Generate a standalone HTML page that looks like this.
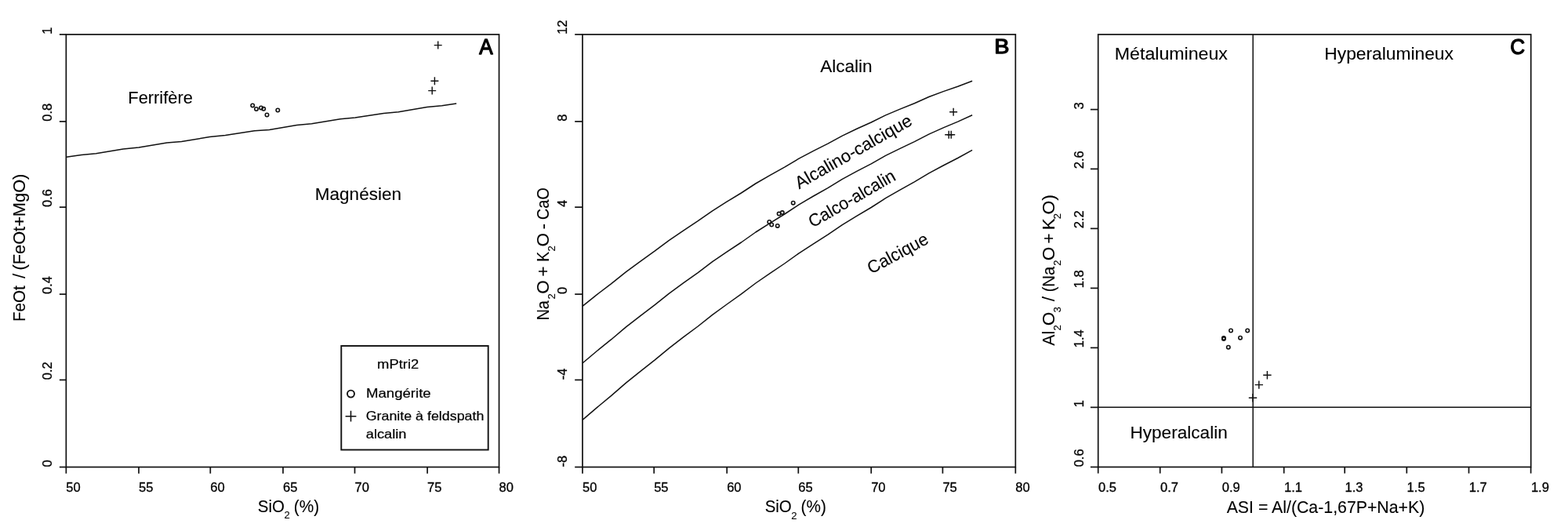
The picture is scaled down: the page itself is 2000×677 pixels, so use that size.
<!DOCTYPE html>
<html lang="fr"><head><meta charset="utf-8"><title>Diagrammes géochimiques</title>
<style>html,body{margin:0;padding:0;background:#fff}svg{display:block}text{font-family:'Liberation Sans', sans-serif;fill:#000}text.m{stroke:#000;stroke-width:.1px}text.t{stroke:#000;stroke-width:.3px}text.g{stroke:#000;stroke-width:.2px}text.p{stroke:#000;stroke-width:1.3px;stroke-linejoin:round}</style>
</head><body>
<svg width="2000" height="677" viewBox="0 0 2000 677">
<rect width="2000" height="677" fill="#fff"/>
<g id="panelA">
<rect x="84.35" y="43.95" width="552.20" height="551.55" fill="none" stroke="#111" stroke-width="1.7"/>
<line x1="84.35" y1="595.50" x2="84.35" y2="603.70" stroke="#111" stroke-width="1.7"/>
<text class="t" x="84.35" y="626.90" font-size="15.6" textLength="18.39" lengthAdjust="spacingAndGlyphs">50</text>
<line x1="177.00" y1="595.50" x2="177.00" y2="603.70" stroke="#111" stroke-width="1.7"/>
<text class="t" x="177.00" y="626.90" font-size="15.6" textLength="18.39" lengthAdjust="spacingAndGlyphs">55</text>
<line x1="268.30" y1="595.50" x2="268.30" y2="603.70" stroke="#111" stroke-width="1.7"/>
<text class="t" x="268.30" y="626.90" font-size="15.6" textLength="18.39" lengthAdjust="spacingAndGlyphs">60</text>
<line x1="361.00" y1="595.50" x2="361.00" y2="603.70" stroke="#111" stroke-width="1.7"/>
<text class="t" x="361.00" y="626.90" font-size="15.6" textLength="18.39" lengthAdjust="spacingAndGlyphs">65</text>
<line x1="452.50" y1="595.50" x2="452.50" y2="603.70" stroke="#111" stroke-width="1.7"/>
<text class="t" x="452.50" y="626.90" font-size="15.6" textLength="18.39" lengthAdjust="spacingAndGlyphs">70</text>
<line x1="545.10" y1="595.50" x2="545.10" y2="603.70" stroke="#111" stroke-width="1.7"/>
<text class="t" x="545.10" y="626.90" font-size="15.6" textLength="18.39" lengthAdjust="spacingAndGlyphs">75</text>
<line x1="636.55" y1="595.50" x2="636.55" y2="603.70" stroke="#111" stroke-width="1.7"/>
<text class="t" x="636.55" y="626.90" font-size="15.6" textLength="18.39" lengthAdjust="spacingAndGlyphs">80</text>
<line x1="75.85" y1="595.50" x2="84.35" y2="595.50" stroke="#111" stroke-width="1.7"/>
<text class="t" x="66.00" y="595.40" font-size="15.6" transform="rotate(-90 66.00 595.40)" textLength="9.20" lengthAdjust="spacingAndGlyphs">0</text>
<line x1="75.85" y1="484.40" x2="84.35" y2="484.40" stroke="#111" stroke-width="1.7"/>
<text class="t" x="66.00" y="484.30" font-size="15.6" transform="rotate(-90 66.00 484.30)" textLength="22.99" lengthAdjust="spacingAndGlyphs">0.2</text>
<line x1="75.85" y1="375.10" x2="84.35" y2="375.10" stroke="#111" stroke-width="1.7"/>
<text class="t" x="66.00" y="375.00" font-size="15.6" transform="rotate(-90 66.00 375.00)" textLength="22.99" lengthAdjust="spacingAndGlyphs">0.4</text>
<line x1="75.85" y1="264.15" x2="84.35" y2="264.15" stroke="#111" stroke-width="1.7"/>
<text class="t" x="66.00" y="264.05" font-size="15.6" transform="rotate(-90 66.00 264.05)" textLength="22.99" lengthAdjust="spacingAndGlyphs">0.6</text>
<line x1="75.85" y1="154.90" x2="84.35" y2="154.90" stroke="#111" stroke-width="1.7"/>
<text class="t" x="66.00" y="154.80" font-size="15.6" transform="rotate(-90 66.00 154.80)" textLength="22.99" lengthAdjust="spacingAndGlyphs">0.8</text>
<line x1="75.85" y1="43.95" x2="84.35" y2="43.95" stroke="#111" stroke-width="1.7"/>
<text class="t" x="66.00" y="43.85" font-size="15.6" transform="rotate(-90 66.00 43.85)" textLength="9.20" lengthAdjust="spacingAndGlyphs">1</text>
<polyline points="84.5,200.3 103.9,197.5 122.5,195.8 157.1,189.9 177.0,188.1 212.9,182.1 231.5,180.5 267.4,174.5 287.4,172.6 324.6,166.7 343.5,165.6 378.6,159.5 397.5,157.8 434.0,151.7 452.9,150.1 489.3,144.4 508.2,142.7 544.7,136.6 563.6,134.8 582.2,132.1" fill="none" stroke="#111" stroke-width="1.5" stroke-linejoin="round"/>
<circle cx="322.20" cy="134.40" r="2.2" fill="none" stroke="#111" stroke-width="1.6"/>
<circle cx="326.95" cy="139.00" r="2.2" fill="none" stroke="#111" stroke-width="1.6"/>
<circle cx="333.00" cy="137.50" r="2.2" fill="none" stroke="#111" stroke-width="1.6"/>
<circle cx="336.20" cy="138.80" r="2.2" fill="none" stroke="#111" stroke-width="1.6"/>
<circle cx="340.50" cy="146.50" r="2.2" fill="none" stroke="#111" stroke-width="1.6"/>
<circle cx="354.30" cy="140.50" r="2.2" fill="none" stroke="#111" stroke-width="1.6"/>
<path d="M553.70 57.60H563.70M558.70 52.60V62.60" fill="none" stroke="#111" stroke-width="1.45"/>
<path d="M549.40 103.30H559.40M554.40 98.30V108.30" fill="none" stroke="#111" stroke-width="1.45"/>
<path d="M546.20 115.60H556.20M551.20 110.60V120.60" fill="none" stroke="#111" stroke-width="1.45"/>
<text class="m" x="163.31" y="132.05" font-size="22.4" textLength="82.56" lengthAdjust="spacingAndGlyphs">Ferrifère</text>
<text class="m" x="401.85" y="255.25" font-size="22.4" textLength="110.11" lengthAdjust="spacingAndGlyphs">Magnésien</text>
<text class="p" x="611.20" y="68.85" font-size="27.3" textLength="17.40" lengthAdjust="spacingAndGlyphs">A</text>
<text class="m" x="32.35" y="410.10" font-size="22.4" transform="rotate(-90 32.35 410.10)" textLength="45.95" lengthAdjust="spacingAndGlyphs">FeOt</text>
<text class="m" x="32.35" y="354.94" font-size="22.4" transform="rotate(-90 32.35 354.94)">/</text>
<text class="m" x="32.35" y="344.55" font-size="22.4" transform="rotate(-90 32.35 344.55)" textLength="122.90" lengthAdjust="spacingAndGlyphs">(FeOt+MgO)</text>
<text class="m" x="328.87" y="653.05" font-size="22.4" textLength="34.11" lengthAdjust="spacingAndGlyphs">SiO</text>
<text class="m" x="362.39" y="661.45" font-size="13.0">2</text>
<text class="m" x="374.71" y="653.05" font-size="22.4" textLength="32.38" lengthAdjust="spacingAndGlyphs">(%)</text>
<rect x="435.3" y="441.0" width="187.4" height="132.5" fill="none" stroke="#111" stroke-width="1.9"/>
<text class="g" x="481.08" y="470.35" font-size="16.6" textLength="53.15" lengthAdjust="spacingAndGlyphs">mPtri2</text>
<circle cx="447.50" cy="502.10" r="4.5" fill="none" stroke="#111" stroke-width="1.9"/>
<text class="g" x="466.97" y="507.35" font-size="16.6" textLength="82.75" lengthAdjust="spacingAndGlyphs">Mangérite</text>
<path d="M440.60 530.70H454.40M447.50 523.80V537.60" fill="none" stroke="#111" stroke-width="1.6"/>
<text class="g" x="466.70" y="536.05" font-size="16.6" textLength="150.65" lengthAdjust="spacingAndGlyphs">Granite à feldspath</text>
<text class="g" x="466.83" y="558.95" font-size="16.6" textLength="51.66" lengthAdjust="spacingAndGlyphs">alcalin</text>
</g>
<g id="panelB">
<rect x="743.0" y="43.95" width="552.30" height="551.55" fill="none" stroke="#111" stroke-width="1.7"/>
<line x1="743.00" y1="595.50" x2="743.00" y2="603.70" stroke="#111" stroke-width="1.7"/>
<text class="t" x="743.00" y="626.90" font-size="15.6" textLength="18.39" lengthAdjust="spacingAndGlyphs">50</text>
<line x1="834.20" y1="595.50" x2="834.20" y2="603.70" stroke="#111" stroke-width="1.7"/>
<text class="t" x="834.20" y="626.90" font-size="15.6" textLength="18.39" lengthAdjust="spacingAndGlyphs">55</text>
<line x1="927.20" y1="595.50" x2="927.20" y2="603.70" stroke="#111" stroke-width="1.7"/>
<text class="t" x="927.20" y="626.90" font-size="15.6" textLength="18.39" lengthAdjust="spacingAndGlyphs">60</text>
<line x1="1018.30" y1="595.50" x2="1018.30" y2="603.70" stroke="#111" stroke-width="1.7"/>
<text class="t" x="1018.30" y="626.90" font-size="15.6" textLength="18.39" lengthAdjust="spacingAndGlyphs">65</text>
<line x1="1111.20" y1="595.50" x2="1111.20" y2="603.70" stroke="#111" stroke-width="1.7"/>
<text class="t" x="1111.20" y="626.90" font-size="15.6" textLength="18.39" lengthAdjust="spacingAndGlyphs">70</text>
<line x1="1202.40" y1="595.50" x2="1202.40" y2="603.70" stroke="#111" stroke-width="1.7"/>
<text class="t" x="1202.40" y="626.90" font-size="15.6" textLength="18.39" lengthAdjust="spacingAndGlyphs">75</text>
<line x1="1295.30" y1="595.50" x2="1295.30" y2="603.70" stroke="#111" stroke-width="1.7"/>
<text class="t" x="1295.30" y="626.90" font-size="15.6" textLength="18.39" lengthAdjust="spacingAndGlyphs">80</text>
<line x1="733.20" y1="595.50" x2="743.00" y2="595.50" stroke="#111" stroke-width="1.7"/>
<text class="t" x="723.30" y="595.40" font-size="15.6" transform="rotate(-90 723.30 595.40)" textLength="14.70" lengthAdjust="spacingAndGlyphs">-8</text>
<line x1="733.20" y1="484.40" x2="743.00" y2="484.40" stroke="#111" stroke-width="1.7"/>
<text class="t" x="723.30" y="484.30" font-size="15.6" transform="rotate(-90 723.30 484.30)" textLength="14.70" lengthAdjust="spacingAndGlyphs">-4</text>
<line x1="733.20" y1="375.10" x2="743.00" y2="375.10" stroke="#111" stroke-width="1.7"/>
<text class="t" x="723.30" y="375.00" font-size="15.6" transform="rotate(-90 723.30 375.00)" textLength="9.20" lengthAdjust="spacingAndGlyphs">0</text>
<line x1="733.20" y1="264.15" x2="743.00" y2="264.15" stroke="#111" stroke-width="1.7"/>
<text class="t" x="723.30" y="264.05" font-size="15.6" transform="rotate(-90 723.30 264.05)" textLength="9.20" lengthAdjust="spacingAndGlyphs">4</text>
<line x1="733.20" y1="154.90" x2="743.00" y2="154.90" stroke="#111" stroke-width="1.7"/>
<text class="t" x="723.30" y="154.80" font-size="15.6" transform="rotate(-90 723.30 154.80)" textLength="9.20" lengthAdjust="spacingAndGlyphs">8</text>
<line x1="733.20" y1="43.95" x2="743.00" y2="43.95" stroke="#111" stroke-width="1.7"/>
<text class="t" x="723.30" y="43.85" font-size="15.6" transform="rotate(-90 723.30 43.85)" textLength="18.39" lengthAdjust="spacingAndGlyphs">12</text>
<polyline points="743.0,390.3 761.4,375.6 779.8,361.6 798.2,346.8 816.6,333.3 835.0,320.2 853.5,306.4 871.9,293.8 890.3,281.7 908.7,268.8 927.1,257.2 945.5,246.0 963.9,234.0 982.3,223.4 1000.7,213.2 1019.1,202.1 1037.6,192.4 1056.0,183.1 1074.4,173.1 1092.8,164.3 1111.2,156.0 1129.6,146.9 1148.0,139.1 1166.4,131.7 1184.8,123.5 1203.2,116.6 1221.7,110.2 1240.1,103.2" fill="none" stroke="#111" stroke-width="1.5" stroke-linejoin="round"/>
<polyline points="743.0,463.0 761.4,447.5 779.8,432.7 798.2,417.1 816.6,402.8 835.0,388.8 853.5,374.1 871.9,360.7 890.3,347.6 908.7,333.7 927.1,321.2 945.5,309.0 963.9,296.0 982.3,284.3 1000.7,273.0 1019.1,260.8 1037.6,250.0 1056.0,239.6 1074.4,228.3 1092.8,218.4 1111.2,208.8 1129.6,198.4 1148.0,189.3 1166.4,180.6 1184.8,171.1 1203.2,162.9 1221.7,155.1 1240.1,146.8" fill="none" stroke="#111" stroke-width="1.5" stroke-linejoin="round"/>
<polyline points="743.0,535.4 761.4,519.6 779.8,504.4 798.2,488.4 816.6,473.6 835.0,459.1 853.5,443.8 871.9,429.7 890.3,416.0 908.7,401.3 927.1,388.0 945.5,374.9 963.9,361.0 982.3,348.3 1000.7,336.0 1019.1,322.8 1037.6,310.8 1056.0,299.2 1074.4,286.7 1092.8,275.4 1111.2,264.5 1129.6,252.7 1148.0,242.1 1166.4,231.9 1184.8,220.8 1203.2,211.0 1221.7,201.5 1240.1,191.4" fill="none" stroke="#111" stroke-width="1.5" stroke-linejoin="round"/>
<circle cx="1011.70" cy="258.70" r="2.2" fill="none" stroke="#111" stroke-width="1.6"/>
<circle cx="997.80" cy="271.10" r="2.2" fill="none" stroke="#111" stroke-width="1.6"/>
<circle cx="993.60" cy="272.60" r="2.2" fill="none" stroke="#111" stroke-width="1.6"/>
<circle cx="981.30" cy="283.00" r="2.2" fill="none" stroke="#111" stroke-width="1.6"/>
<circle cx="984.20" cy="286.50" r="2.2" fill="none" stroke="#111" stroke-width="1.6"/>
<circle cx="991.70" cy="287.90" r="2.2" fill="none" stroke="#111" stroke-width="1.6"/>
<path d="M1211.10 142.80H1221.10M1216.10 137.80V147.80" fill="none" stroke="#111" stroke-width="1.45"/>
<path d="M1205.20 171.80H1215.20M1210.20 166.80V176.80" fill="none" stroke="#111" stroke-width="1.45"/>
<path d="M1208.20 171.80H1218.20M1213.20 166.80V176.80" fill="none" stroke="#111" stroke-width="1.45"/>
<text class="m" x="1046.16" y="92.25" font-size="22.4" textLength="66.41" lengthAdjust="spacingAndGlyphs">Alcalin</text>
<text class="m" x="1019.16" y="241.42" font-size="22.4" transform="rotate(-29.7 1019.16 241.42)" textLength="167.94" lengthAdjust="spacingAndGlyphs">Alcalino-calcique</text>
<text class="m" x="1036.45" y="290.75" font-size="22.4" transform="rotate(-30.0 1036.45 290.75)" textLength="124.21" lengthAdjust="spacingAndGlyphs">Calco-alcalin</text>
<text class="m" x="1111.33" y="349.83" font-size="22.4" transform="rotate(-28.4 1111.33 349.83)" textLength="84.77" lengthAdjust="spacingAndGlyphs">Calcique</text>
<text class="p" x="1268.19" y="68.35" font-size="26.3" textLength="19.17" lengthAdjust="spacingAndGlyphs">B</text>
<text class="m" x="699.85" y="408.31" font-size="22.4" transform="rotate(-90 699.85 408.31)" textLength="25.11" lengthAdjust="spacingAndGlyphs">Na</text>
<text class="m" x="708.05" y="381.56" font-size="13.0" transform="rotate(-90 708.05 381.56)">2</text>
<text class="m" x="699.85" y="374.71" font-size="22.4" transform="rotate(-90 699.85 374.71)">O</text>
<text class="m" x="699.85" y="352.39" font-size="22.4" transform="rotate(-90 699.85 352.39)">+</text>
<text class="m" x="699.85" y="333.69" font-size="22.4" transform="rotate(-90 699.85 333.69)" textLength="12.90" lengthAdjust="spacingAndGlyphs">K</text>
<text class="m" x="708.05" y="320.56" font-size="13.0" transform="rotate(-90 708.05 320.56)">2</text>
<text class="m" x="699.85" y="314.61" font-size="22.4" transform="rotate(-90 699.85 314.61)">O</text>
<text class="m" x="699.85" y="292.58" font-size="22.4" transform="rotate(-90 699.85 292.58)">-</text>
<text class="m" x="699.85" y="280.22" font-size="22.4" transform="rotate(-90 699.85 280.22)" textLength="41.18" lengthAdjust="spacingAndGlyphs">CaO</text>
<text class="m" x="975.67" y="653.15" font-size="22.4" textLength="34.11" lengthAdjust="spacingAndGlyphs">SiO</text>
<text class="m" x="1009.19" y="661.65" font-size="13.0">2</text>
<text class="m" x="1021.62" y="653.15" font-size="22.4" textLength="32.17" lengthAdjust="spacingAndGlyphs">(%)</text>
</g>
<g id="panelC">
<rect x="1400.7" y="43.95" width="552.00" height="551.50" fill="none" stroke="#111" stroke-width="1.7"/>
<line x1="1400.70" y1="595.45" x2="1400.70" y2="603.55" stroke="#111" stroke-width="1.7"/>
<text class="t" x="1401.00" y="626.95" font-size="15.6" textLength="22.99" lengthAdjust="spacingAndGlyphs">0.5</text>
<line x1="1479.70" y1="595.45" x2="1479.70" y2="603.55" stroke="#111" stroke-width="1.7"/>
<text class="t" x="1480.00" y="626.95" font-size="15.6" textLength="22.99" lengthAdjust="spacingAndGlyphs">0.7</text>
<line x1="1558.40" y1="595.45" x2="1558.40" y2="603.55" stroke="#111" stroke-width="1.7"/>
<text class="t" x="1558.70" y="626.95" font-size="15.6" textLength="22.99" lengthAdjust="spacingAndGlyphs">0.9</text>
<line x1="1637.70" y1="595.45" x2="1637.70" y2="603.55" stroke="#111" stroke-width="1.7"/>
<text class="t" x="1638.00" y="626.95" font-size="15.6" textLength="22.99" lengthAdjust="spacingAndGlyphs">1.1</text>
<line x1="1715.20" y1="595.45" x2="1715.20" y2="603.55" stroke="#111" stroke-width="1.7"/>
<text class="t" x="1715.50" y="626.95" font-size="15.6" textLength="22.99" lengthAdjust="spacingAndGlyphs">1.3</text>
<line x1="1794.30" y1="595.45" x2="1794.30" y2="603.55" stroke="#111" stroke-width="1.7"/>
<text class="t" x="1794.60" y="626.95" font-size="15.6" textLength="22.99" lengthAdjust="spacingAndGlyphs">1.5</text>
<line x1="1873.50" y1="595.45" x2="1873.50" y2="603.55" stroke="#111" stroke-width="1.7"/>
<text class="t" x="1873.80" y="626.95" font-size="15.6" textLength="22.99" lengthAdjust="spacingAndGlyphs">1.7</text>
<line x1="1952.60" y1="595.45" x2="1952.60" y2="603.55" stroke="#111" stroke-width="1.7"/>
<text class="t" x="1952.90" y="626.95" font-size="15.6" textLength="22.99" lengthAdjust="spacingAndGlyphs">1.9</text>
<line x1="1390.90" y1="595.45" x2="1400.70" y2="595.45" stroke="#111" stroke-width="1.7"/>
<text class="t" x="1382.30" y="595.35" font-size="15.6" transform="rotate(-90 1382.30 595.35)" textLength="22.99" lengthAdjust="spacingAndGlyphs">0.6</text>
<line x1="1390.90" y1="519.35" x2="1400.70" y2="519.35" stroke="#111" stroke-width="1.7"/>
<text class="t" x="1382.30" y="519.25" font-size="15.6" transform="rotate(-90 1382.30 519.25)" textLength="9.20" lengthAdjust="spacingAndGlyphs">1</text>
<line x1="1390.90" y1="443.40" x2="1400.70" y2="443.40" stroke="#111" stroke-width="1.7"/>
<text class="t" x="1382.30" y="443.30" font-size="15.6" transform="rotate(-90 1382.30 443.30)" textLength="22.99" lengthAdjust="spacingAndGlyphs">1.4</text>
<line x1="1390.90" y1="367.40" x2="1400.70" y2="367.40" stroke="#111" stroke-width="1.7"/>
<text class="t" x="1382.30" y="367.30" font-size="15.6" transform="rotate(-90 1382.30 367.30)" textLength="22.99" lengthAdjust="spacingAndGlyphs">1.8</text>
<line x1="1390.90" y1="291.40" x2="1400.70" y2="291.40" stroke="#111" stroke-width="1.7"/>
<text class="t" x="1382.30" y="291.30" font-size="15.6" transform="rotate(-90 1382.30 291.30)" textLength="22.99" lengthAdjust="spacingAndGlyphs">2.2</text>
<line x1="1390.90" y1="215.40" x2="1400.70" y2="215.40" stroke="#111" stroke-width="1.7"/>
<text class="t" x="1382.30" y="215.30" font-size="15.6" transform="rotate(-90 1382.30 215.30)" textLength="22.99" lengthAdjust="spacingAndGlyphs">2.6</text>
<line x1="1390.90" y1="139.60" x2="1400.70" y2="139.60" stroke="#111" stroke-width="1.7"/>
<text class="t" x="1382.30" y="139.50" font-size="15.6" transform="rotate(-90 1382.30 139.50)" textLength="9.20" lengthAdjust="spacingAndGlyphs">3</text>
<line x1="1598.20" y1="43.95" x2="1598.20" y2="595.45" stroke="#111" stroke-width="1.5"/>
<line x1="1400.70" y1="519.35" x2="1952.70" y2="519.35" stroke="#111" stroke-width="1.5"/>
<circle cx="1560.90" cy="431.10" r="2.2" fill="none" stroke="#111" stroke-width="1.6"/>
<circle cx="1560.90" cy="432.10" r="2.2" fill="none" stroke="#111" stroke-width="1.6"/>
<circle cx="1570.00" cy="421.50" r="2.2" fill="none" stroke="#111" stroke-width="1.6"/>
<circle cx="1566.80" cy="442.70" r="2.2" fill="none" stroke="#111" stroke-width="1.6"/>
<circle cx="1582.00" cy="430.70" r="2.2" fill="none" stroke="#111" stroke-width="1.6"/>
<circle cx="1591.20" cy="421.50" r="2.2" fill="none" stroke="#111" stroke-width="1.6"/>
<path d="M1592.80 507.30H1603.20M1598.00 502.10V512.50" fill="none" stroke="#111" stroke-width="1.45"/>
<path d="M1600.60 490.60H1611.00M1605.80 485.40V495.80" fill="none" stroke="#111" stroke-width="1.45"/>
<path d="M1611.20 478.20H1621.60M1616.40 473.00V483.40" fill="none" stroke="#111" stroke-width="1.45"/>
<text class="m" x="1421.80" y="75.85" font-size="22.4" textLength="144.15" lengthAdjust="spacingAndGlyphs">Métalumineux</text>
<text class="m" x="1689.33" y="75.95" font-size="22.4" textLength="164.61" lengthAdjust="spacingAndGlyphs">Hyperalumineux</text>
<text class="m" x="1441.45" y="558.55" font-size="22.4" textLength="124.32" lengthAdjust="spacingAndGlyphs">Hyperalcalin</text>
<text class="p" x="1926.13" y="68.95" font-size="27.0" textLength="18.82" lengthAdjust="spacingAndGlyphs">C</text>
<text class="m" x="1344.55" y="440.74" font-size="22.4" transform="rotate(-90 1344.55 440.74)" textLength="18.86" lengthAdjust="spacingAndGlyphs">Al</text>
<text class="m" x="1353.25" y="421.51" font-size="13.0" transform="rotate(-90 1353.25 421.51)">2</text>
<text class="m" x="1344.55" y="415.26" font-size="22.4" transform="rotate(-90 1344.55 415.26)">O</text>
<text class="m" x="1353.25" y="398.53" font-size="13.0" transform="rotate(-90 1353.25 398.53)">3</text>
<text class="m" x="1344.55" y="384.21" font-size="22.4" transform="rotate(-90 1344.55 384.21)">/</text>
<text class="m" x="1344.55" y="372.35" font-size="22.4" transform="rotate(-90 1344.55 372.35)" textLength="32.45" lengthAdjust="spacingAndGlyphs">(Na</text>
<text class="m" x="1353.25" y="338.86" font-size="13.0" transform="rotate(-90 1353.25 338.86)">2</text>
<text class="m" x="1344.55" y="332.36" font-size="22.4" transform="rotate(-90 1344.55 332.36)">O</text>
<text class="m" x="1344.55" y="310.44" font-size="22.4" transform="rotate(-90 1344.55 310.44)">+</text>
<text class="m" x="1344.55" y="293.21" font-size="22.4" transform="rotate(-90 1344.55 293.21)">K</text>
<text class="m" x="1353.25" y="279.21" font-size="13.0" transform="rotate(-90 1353.25 279.21)">2</text>
<text class="m" x="1344.55" y="273.48" font-size="22.4" transform="rotate(-90 1344.55 273.48)" textLength="25.29" lengthAdjust="spacingAndGlyphs">O)</text>
<text class="m" x="1564.66" y="654.05" font-size="22.4" textLength="252.66" lengthAdjust="spacingAndGlyphs">ASI = Al/(Ca-1,67P+Na+K)</text>
</g>
</svg></body></html>
